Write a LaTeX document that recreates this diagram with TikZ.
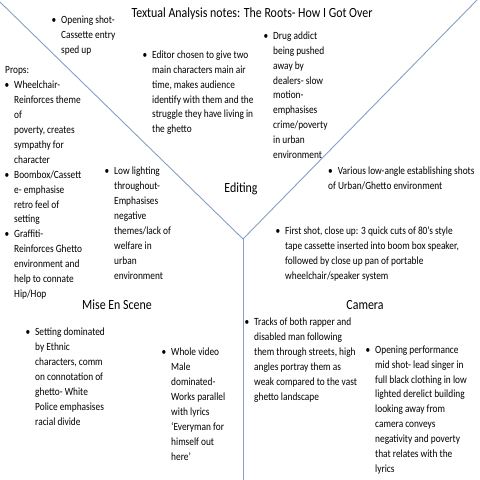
\documentclass[tikz,border=0pt]{standalone}
\usepackage{fontspec}
\setmainfont{Carlito}[FakeStretch=0.85]
\definecolor{divider}{RGB}{132,160,198}
\newcommand{\notefont}{\fontsize{11bp}{14.9bp}\selectfont}
\newcommand{\headfont}{\fontsize{14bp}{16bp}\selectfont}
\newcommand{\bul}{\llap{\textbullet\hspace{5bp}}}
\tikzset{
  note/.style={anchor=north west, align=left, inner sep=0pt, font=\notefont},
  head/.style={inner sep=0pt, font=\headfont},
  divide/.style={draw=divider, line width=0.9bp}
}
\begin{document}
\begin{tikzpicture}[x=1bp,y=-1bp]
      \useasboundingbox (0,0) rectangle (480,480);
      \coordinate (tl) at (0,2);
      \coordinate (tr) at (477,0);
      \coordinate (mid) at (243,239);
      \coordinate (bot) at (243,481);
      \begin{scope}[divide]
        \draw (tl) -- (mid) -- (tr);
        \draw (mid) -- (bot);
      \end{scope}
      \node[head] (title) at (252,14) {Textual Analysis notes: The Roots- How I Got Over};
      \node[head] (editing) at (241,189) {Editing};
      \node[head] (mise) at (117,305) {Mise En Scene};
      \node[head] (camera) at (365,305) {Camera};
      \node[note] (opening) at (61,15.5) {\bul Opening shot-\\Cassette entry\\sped up};
      \node[note] (props) at (5,66.5) {Props:};
      \node[note] (proplist) at (14,81) {\bul Wheelchair-\\Reinforces theme\\of\\poverty, creates\\sympathy for\\character\\
        \bul Boombox/Cassett\\e- emphasise\\retro feel of\\setting\\
        \bul Graffiti-\\Reinforces Ghetto\\environment and\\help to connate\\Hip/Hop};
      \node[note] (editor) at (152,50.5) {\bul Editor chosen to give two\\main characters main air\\time, makes audience\\identify with them and the\\struggle they have living in\\the ghetto};
      \node[note] (drug) at (273,31.5) {\bul Drug addict\\being pushed\\away by\\dealers- slow\\motion-\\emphasises\\crime/poverty\\in urban\\environment};
      \node[note] (lighting) at (114,167) {\bul Low lighting\\throughout-\\Emphasises\\negative\\themes/lack of\\welfare in\\urban\\environment};
      \node[note] (lowangle) at (328,167) {\textbullet\hspace{5bp}Various low-angle establishing shots\\of Urban/Ghetto environment};
      \node[note] (firstshot) at (285,227) {\bul First shot, close up: 3 quick cuts of 80's style\\tape cassette inserted into boom box speaker,\\followed by close up pan of portable\\wheelchair/speaker system};
      \node[note] (setting) at (35,328) {\bul Setting dominated\\by Ethnic\\characters, comm\\on connotation of\\ghetto- White\\Police emphasises\\racial divide};
      \node[note] (male) at (171,348) {\bul Whole video\\Male\\dominated-\\Works parallel\\with lyrics\\`Everyman for\\himself out\\here'};
      \node[note] (tracks) at (254,318) {\bul Tracks of both rapper and\\disabled man following\\them through streets, high\\angles portray them as\\weak compared to the vast\\ghetto landscape};
      \node[note] (performance) at (375,345.5) {\bul Opening performance\\mid shot- lead singer in\\full black clothing in low\\lighted derelict building\\looking away from\\camera conveys\\negativity and poverty\\that relates with the\\lyrics};
    \end{tikzpicture}
\end{document}
